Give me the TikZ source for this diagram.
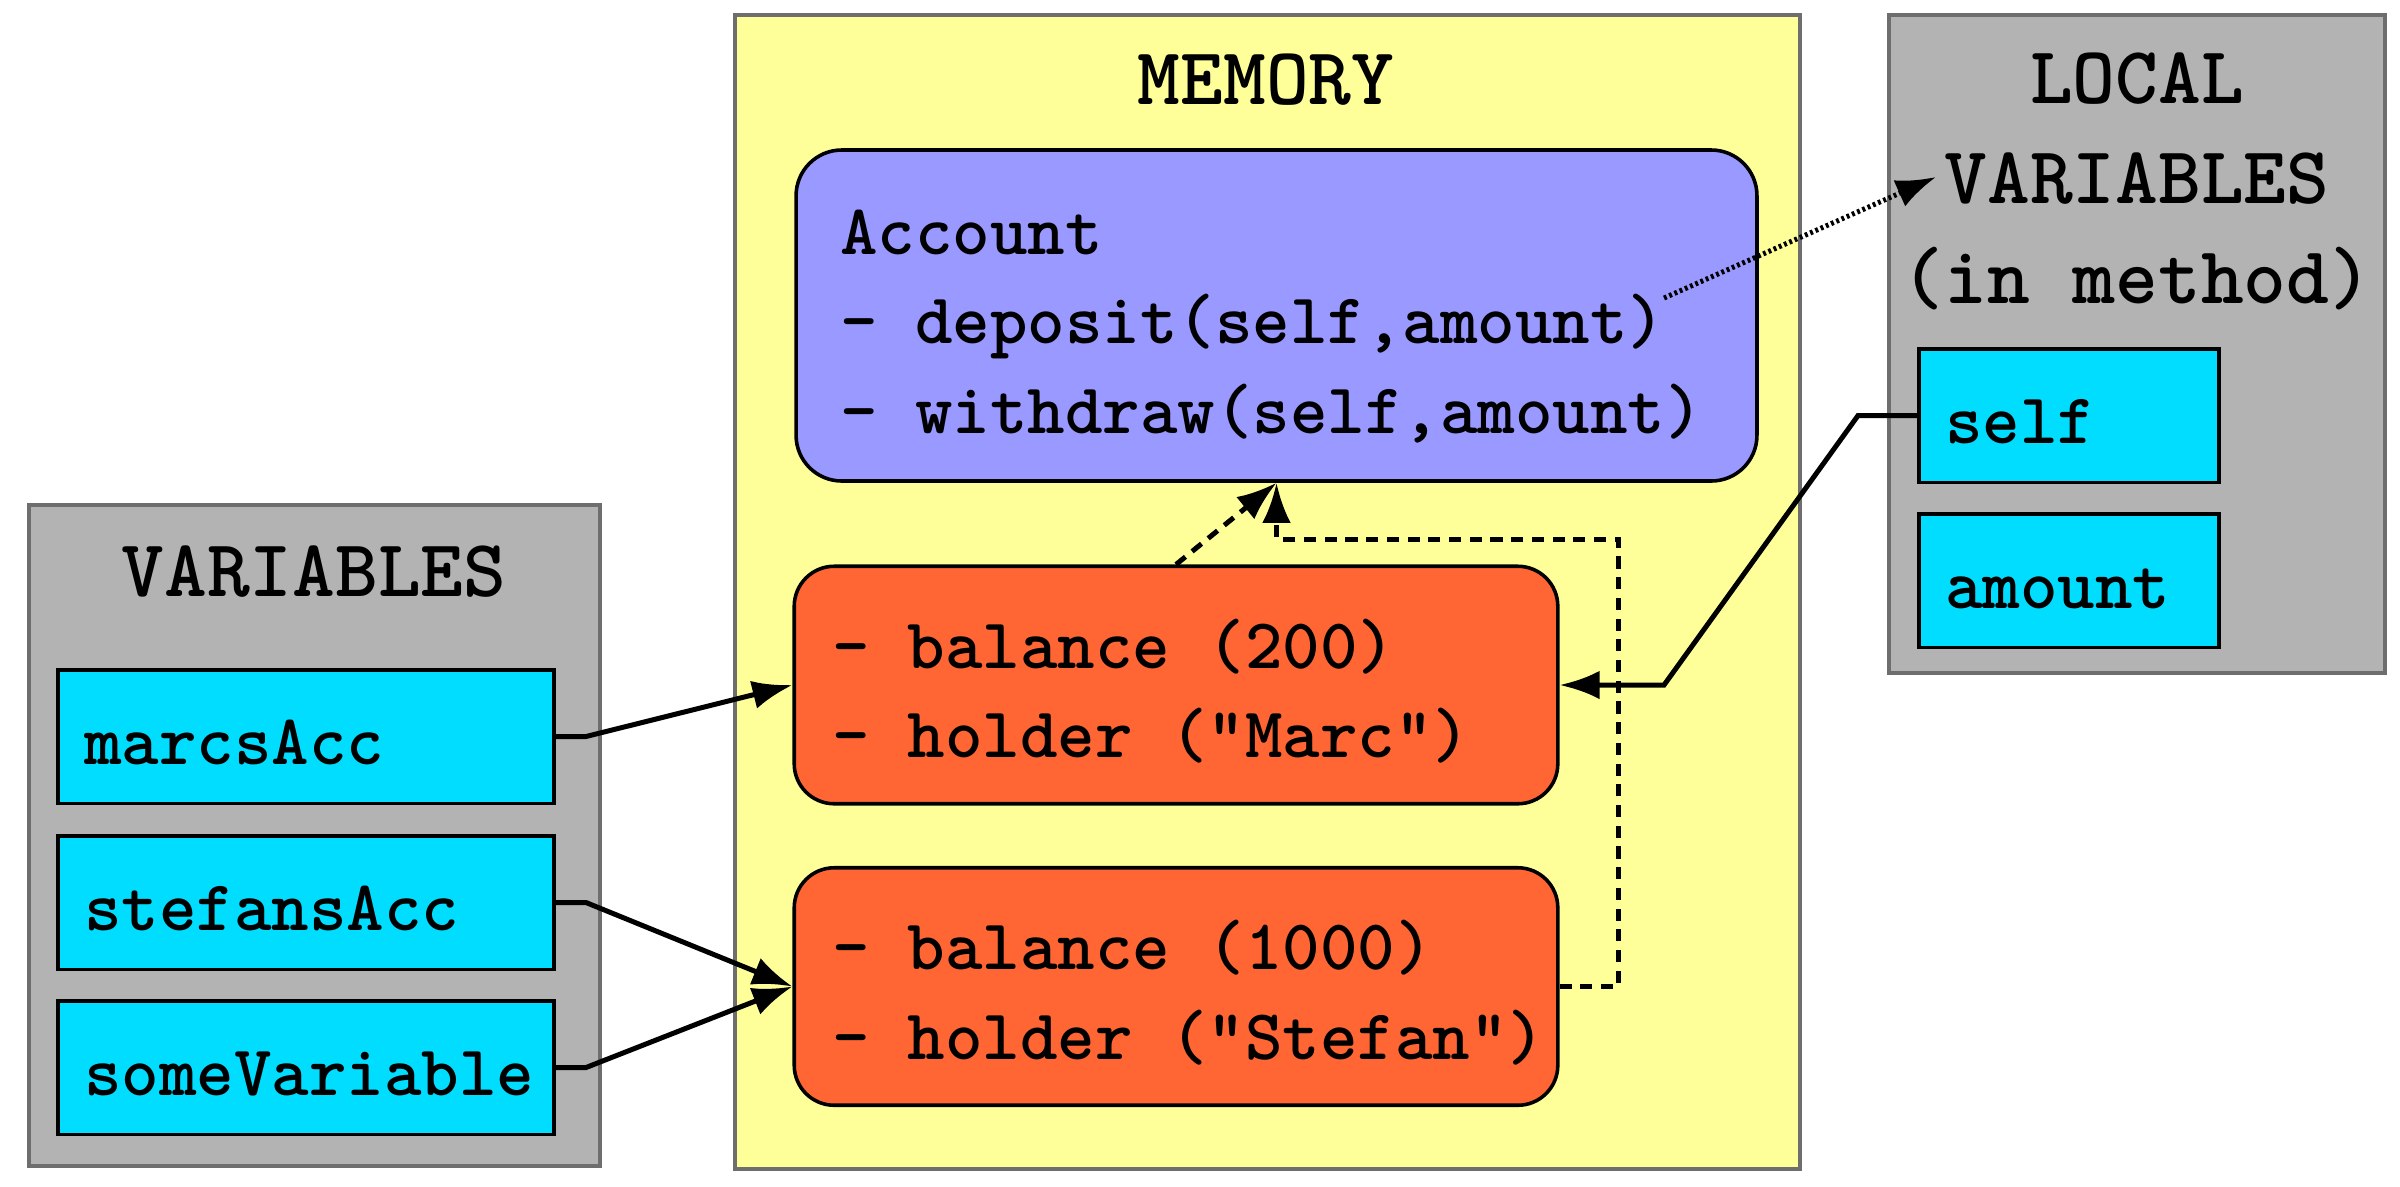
\documentclass[tikz,border=0pt]{standalone}
\usepackage{fontspec}
\usetikzlibrary{arrows.meta}
\definecolor{memyellow}{HTML}{FFFF99}
\definecolor{clsblue}{HTML}{9999FF}
\definecolor{objorange}{HTML}{FF6633}
\definecolor{varcyan}{HTML}{00DDFF}
\definecolor{contgray}{HTML}{B3B3B3}
\definecolor{contborder}{HTML}{6E6E6E}
\newcommand{\lline}[2]{\makebox[#1][l]{#2}}
\begin{document}
\begin{tikzpicture}[x=0.14pt,y=-0.14pt,
  every node/.style={font=\fontsize{10pt}{12.5pt}\selectfont\ttfamily\bfseries},
  container/.style={draw=contborder,line width=0.55pt,inner sep=0pt},
  titletext/.style={font=\fontsize{11.4pt}{14pt}\selectfont\ttfamily\bfseries,align=center,inner sep=0pt},
  cyanbox/.style={draw=black,line width=0.5pt,fill=varcyan,inner xsep=3.64pt,inner ysep=0pt,
    text height=7.8pt,text depth=0pt,minimum height=18.7pt},
  clsbox/.style={draw=black,line width=0.5pt,fill=clsblue,rounded corners=6.4pt,inner xsep=6.16pt,
    align=left,minimum height=46.34pt},
  objbox/.style={draw=black,line width=0.5pt,fill=objorange,rounded corners=5.6pt,inner xsep=5.4pt,
    align=left,minimum height=33.25pt},
  conn/.style={line width=0.7pt,-{Latex[length=5.6pt,width=4pt]}},
  dashconn/.style={conn,dash pattern=on 1.7pt off 1.2pt},
  dotconn/.style={conn,dash pattern=on 0.4pt off 0.4pt}]
\useasboundingbox (0,0) rectangle (2400,1186);

% containers
\node[container,fill=contgray,minimum width=79.94pt,minimum height=92.54pt] (varsbox) at (314.5,835.5) {};
\node[container,fill=memyellow,minimum width=149.1pt,minimum height=161.56pt] (membox) at (1267.5,592) {};
\node[container,fill=contgray,minimum width=69.44pt,minimum height=92.12pt] (localbox) at (2137,344) {};

% titles
\node[titletext] (varstitle) at (314,572) {VARIABLES};
\node[titletext] (memtitle) at (1266,80) {MEMORY};
\node[titletext] (localtitle) at (2137,181) {LOCAL\\VARIABLES\\(in method)};

% variables
\node[cyanbox] (marcs) at (306,736.5) {\lline{62.16pt}{marcsAcc}};
\node[cyanbox] (stefans) at (306,902.5) {\lline{62.16pt}{stefansAcc}};
\node[cyanbox] (somevar) at (306,1067.5) {\lline{62.16pt}{someVariable}};

% memory
\node[clsbox] (account) at (1276.5,315.5) {\rule{0pt}{9.3pt}\lline{122.2pt}{Account}\\- deposit(self,amount)\\- withdraw(self,amount)};
\node[objbox] (marcobj) at (1176,685) {\rule{0pt}{8.6pt}\lline{96.1pt}{- balance (200)}\\\lline{96.1pt}{- holder ("Marc")}};
\node[objbox] (stefanobj) at (1176,986.5) {\rule{0pt}{8.6pt}\lline{96.1pt}{- balance (1000)}\\\lline{96.1pt}{- holder ("Stefan")}};

% local variables
\node[cyanbox] (selfvar) at (2069,415.5) {\lline{34.72pt}{self}};
\node[cyanbox] (amountvar) at (2069,580.5) {\lline{34.72pt}{amount}};

% helper coordinates
\coordinate (dotstart) at (1664,298);
\coordinate (dotend) at (1936,177);
\coordinate (b1) at (586,736.5);
\coordinate (b2) at (586,902.5);
\coordinate (b3) at (586,1067.5);
\coordinate (s1) at (1858,415.5);
\coordinate (s2) at (1664,685);
\coordinate (d1) at (1618,986.5);
\coordinate (d2) at (1618,539);
\coordinate (d3) at (1276.5,539);

% connectors
\draw[conn] (marcs.east) -- (b1) -- (marcobj.west);
\draw[conn] (stefans.east) -- (b2) -- (stefanobj.west);
\draw[conn] (somevar.east) -- (b3) -- (stefanobj.west);
\draw[conn] (selfvar.west) -- (s1) -- (s2) -- (marcobj.east);
\draw[dashconn] (marcobj.north) -- (account.south);
\draw[dashconn] (stefanobj.east) -- (d1) -- (d2) -- (d3) -- (account.south);
\draw[dotconn] (dotstart) -- (dotend);
\end{tikzpicture}
\end{document}
